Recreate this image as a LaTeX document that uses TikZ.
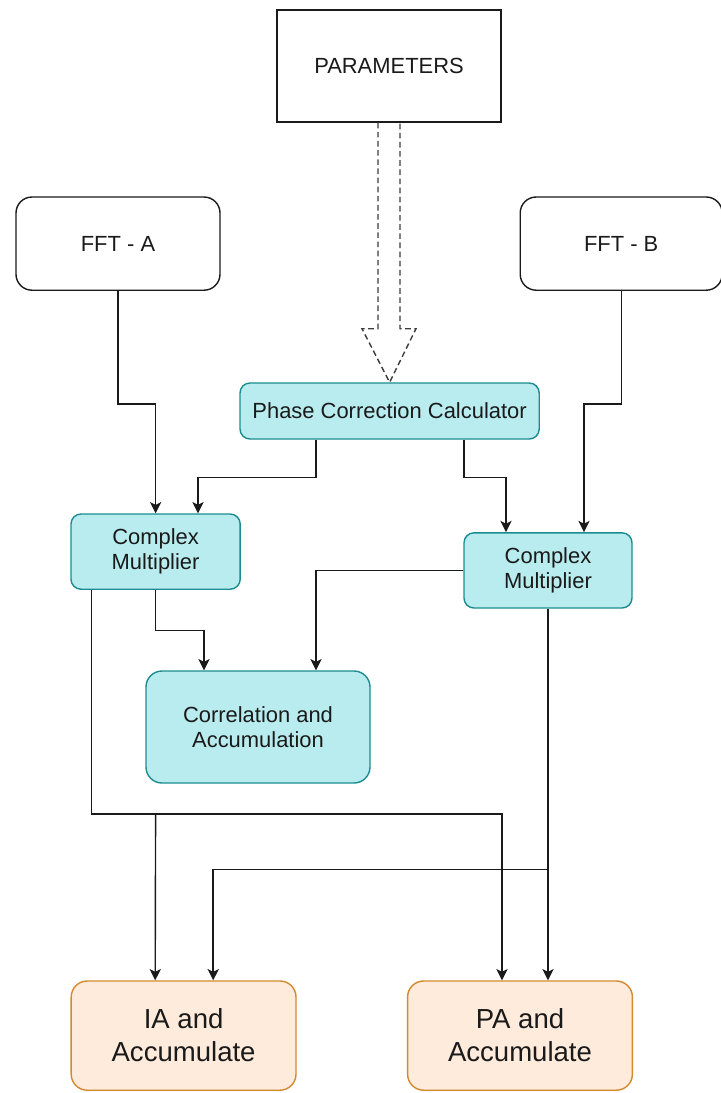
\documentclass[tikz,border=0pt]{standalone}
\usepackage{fontspec}
\setmainfont{Liberation Sans}
\usetikzlibrary{arrows.meta,calc}
\definecolor{ink}{HTML}{1A1A1A}
\definecolor{cyanfill}{HTML}{B9ECEF}
\definecolor{cyanline}{HTML}{1C8C91}
\definecolor{peachfill}{HTML}{FFEBDC}
\definecolor{peachline}{HTML}{D38A2E}

\begin{document}
\begin{tikzpicture}[
  every node/.style={font=\fontsize{15.6}{18}\selectfont, text=ink, align=center},
  plainbox/.style={draw=ink, line width=1pt, minimum width=5.6cm, minimum height=2.8cm},
  sourcebox/.style={draw=ink, line width=1pt, rounded corners=0.4cm, minimum width=5.1cm, minimum height=2.33cm},
  calcbox/.style={draw=cyanline, fill=cyanfill, line width=1pt, rounded corners=0.25cm},
  accbox/.style={draw=peachline, fill=peachfill, line width=1pt, rounded corners=0.4cm,
    minimum width=5.62cm, minimum height=2.73cm, font=\fontsize{19.6}{23.5}\selectfont},
  link/.style={draw=ink, line width=1pt, -{Stealth[length=8pt,width=8pt,inset=2pt]}},
  feed/.style={draw=ink!85, line width=1pt, dash pattern=on 4pt off 2.5pt}
]
 \useasboundingbox (0,0) rectangle (18,-27.325);

 % sources
 \node[plainbox] (param) at (9.725,-1.65) {PARAMETERS};
 \node[sourcebox] (fftA) at (2.95,-6.09) {FFT - A};
 \node[sourcebox, minimum width=5.05cm] (fftB) at (15.53,-6.09) {FFT - B};

 % processing
 \node[calcbox, minimum width=7.48cm, minimum height=1.4cm] (pcc) at (9.74,-10.275) {Phase Correction Calculator};
 \node[calcbox, minimum width=4.23cm, minimum height=1.88cm] (cmA) at (3.89,-13.79) {Complex\\Multiplier};
 \node[calcbox, minimum width=4.2cm, minimum height=1.88cm] (cmB) at (13.7,-14.26) {Complex\\Multiplier};
 \node[calcbox, rounded corners=0.4cm, minimum width=5.6cm, minimum height=2.8cm] (corr) at (6.45,-18.175) {Correlation and\\Accumulation};

 % outputs
 \node[accbox] (ia) at (4.59,-25.89) {IA and\\Accumulate};
 \node[accbox] (pa) at (13.0,-25.89) {PA and\\Accumulate};

 % hollow dashed arrow from the parameters
 \draw[feed] ($(param.south)+(-0.275,0)$) -- ++(0,-5.15) -- ++(-0.4,0)
   -- (pcc.north) -- ($(param.south)+(0.675,-5.15)$) -- ++(-0.4,0) -- ($(param.south)+(0.275,0)$);

 % into the multipliers
 \draw[link] (fftA.south) -- ++(0,-2.825) -| (cmA.north);
 \draw[link] (fftB.south) -- ++(0,-2.825) -| ($(cmB.north)+(0.9,0)$);
 \draw[link] ($(pcc.south)+(-1.84,0)$) -- ++(0,-0.95) -| ($(cmA.north)+(1.06,0)$);
 \draw[link] ($(pcc.south)+(1.86,0)$) -- ++(0,-0.95) -| ($(cmB.north)+(-1.05,0)$);

 % into the correlator
 \draw[link] (cmA.south) -- ++(0,-1.02) -| ($(corr.north)+(-1.35,0)$);
 \draw[link] (cmB.west) -| ($(corr.north)+(1.45,0)$);

 % into the accumulators
 \draw[link] ($(cmA.south)+(-1.6,0)$) -- ++(0,-5.6) -| ($(pa.north)+(-0.45,0)$);
 \draw[link] ($(cmA.south)+(0,-5.6)$) -- ($(ia.north)+(-0.71,0)$);
 \draw[link] (cmB.south) -- (pa.north -| cmB.south);
 \draw[link] ($(cmB.south)+(0,-6.52)$) -| ($(ia.north)+(0.74,0)$);
\end{tikzpicture}
\end{document}
